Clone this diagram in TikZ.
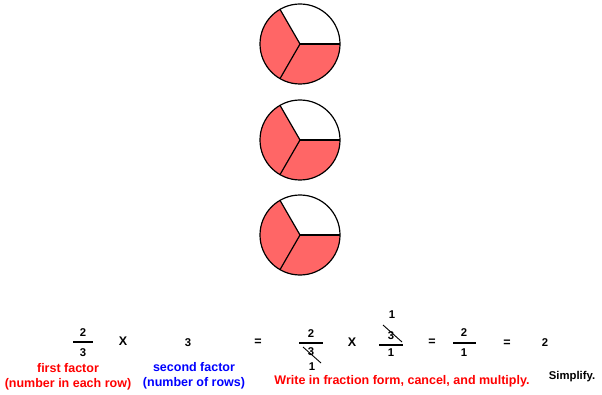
\documentclass[tikz,border=0pt]{standalone}
\usepackage{fontspec}
\setmainfont{Liberation Sans}
\definecolor{piered}{RGB}{255,102,102}

\tikzset{
  num/.style={font=\bfseries\fontsize{11.3}{13}\selectfont, inner sep=0pt},
  op/.style={font=\bfseries\fontsize{12.5}{14}\selectfont, inner sep=0pt},
  lbl/.style={font=\bfseries\fontsize{12.5}{14}\selectfont, inner sep=0pt, align=center},
  bar/.style={line width=1.2pt},
  slash/.style={line width=0.9pt},
  rim/.style={line width=1.2pt},
}

\begin{document}
\begin{tikzpicture}[x=1pt,y=1pt]
  \useasboundingbox (0,0) rectangle (602,394);

  % three pies, two thirds shaded
  \fill[piered] (300,350) -- ++(120:40) arc (120:360:40) -- cycle;
  \draw[rim] (300,350) circle (40);
  \draw[rim] (300,350) -- ++(0:40);
  \draw[rim] (300,350) -- ++(120:40);
  \draw[rim] (300,350) -- ++(240:40);

  \fill[piered] (300,254) -- ++(120:40) arc (120:360:40) -- cycle;
  \draw[rim] (300,254) circle (40);
  \draw[rim] (300,254) -- ++(0:40);
  \draw[rim] (300,254) -- ++(120:40);
  \draw[rim] (300,254) -- ++(240:40);

  \fill[piered] (300,159) -- ++(120:40) arc (120:360:40) -- cycle;
  \draw[rim] (300,159) circle (40);
  \draw[rim] (300,159) -- ++(0:40);
  \draw[rim] (300,159) -- ++(120:40);
  \draw[rim] (300,159) -- ++(240:40);

  % first factor
  \draw (83,61) node[num] (fa) {2};
  \draw (83,41) node[num] (fb) {3};
  \coordinate (fl) at (73,52);
  \coordinate (fr) at (93,52);
  \draw[bar] (fl) -- (fr);
  \draw (123,53) node[op] (x1) {X};
  \draw (188,51) node[num] (sf) {3};
  \draw (258,52) node[op] (e1) {=};
  \draw (68,26) node[lbl,text=red] (firstlbl) {first factor};
  \draw (68,10) node[lbl,text=red] (firstsub) {(number in each row)};
  \draw (194,27) node[lbl,text=blue] (secondlbl) {second factor};
  \draw (194,11) node[lbl,text=blue] (secondsub) {(number of rows)};

  % fraction form, cancelled
  \draw (311,60) node[num] (ca) {2};
  \draw (311,42) node[num] (cb) {3};
  \coordinate (cl) at (299,51);
  \coordinate (cr) at (323,51);
  \draw[bar] (cl) -- (cr);
  \coordinate (cs) at (303,47);
  \coordinate (ce) at (321,31);
  \draw[slash] (cs) -- (ce);
  \draw (312,27.5) node[num] (cone) {1};
  \draw (352,52) node[op] (x2) {X};
  \draw (391,58) node[num] (da) {3};
  \draw (391,41) node[num] (db) {1};
  \coordinate (dl) at (379,49);
  \coordinate (dr) at (403,49);
  \draw[bar] (dl) -- (dr);
  \coordinate (ds) at (383,69);
  \coordinate (de) at (402,52);
  \draw[slash] (ds) -- (de);
  \draw (392,79) node[num] (done) {1};
  \draw (432,52) node[op] (e2) {=};

  % product
  \draw (464,61) node[num] (pa) {2};
  \draw (464,41) node[num] (pb) {1};
  \coordinate (pl) at (453,51);
  \coordinate (pr) at (476,51);
  \draw[bar] (pl) -- (pr);
  \draw (507,51) node[op] (e3) {=};
  \draw (545,51) node[num] (res) {2};
  \draw (402,13) node[lbl,text=red] (writelbl) {Write in fraction form, cancel, and multiply.};
  \draw (572,17) node[num] (simp) {Simplify.};
\end{tikzpicture}
\end{document}
